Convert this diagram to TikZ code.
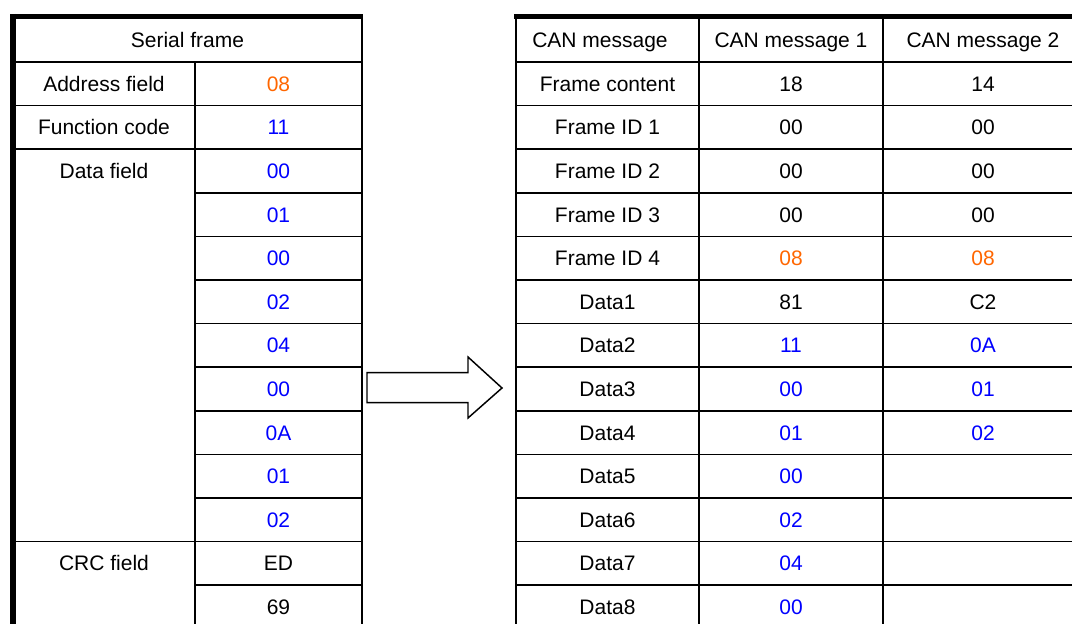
\documentclass[tikz,border=0pt]{standalone}
\usepackage{fontspec}
\setmainfont{Liberation Sans}
\usetikzlibrary{positioning}
\definecolor{addrorange}{RGB}{255,102,0}
\definecolor{datablue}{RGB}{0,0,255}
\tikzset{
  grid line/.style={line width=1.1pt},
  frame line/.style={line width=4pt},
  cell/.style={font=\fontsize{15.75}{18}\selectfont,inner sep=0pt,
    text height=11.3pt,text depth=0pt},
  addr/.style={cell,text=addrorange},
  dat/.style={cell,text=datablue}
}

\begin{document}
\begin{tikzpicture}[x=0.75pt,y=-0.75pt,line cap=butt]
  % Window & clip
  \useasboundingbox (0,0) rectangle (1072,624);
  \clip (0,0) rectangle (1072,624);
  \def\rowh{43.6}

  % Serial frame table: grid
  \draw[grid line] (362,16.5) -- (362,640);
  \draw[grid line] (195,62) -- (195,640);
  \foreach \y in {62,105.6,149.2,541.6}
    \draw[grid line] (13,\y) -- (362,\y);
  \foreach \k in {3,...,10,12}
    \draw[grid line] (195,{62+\k*\rowh}) -- (362,{62+\k*\rowh});
  \draw[frame line] (13,14) -- (13,640);
  \draw[frame line] (10,16.5) -- (363,16.5);

  % Serial frame table: texts
  \node[cell] (sfhead) at (187.5,40) {Serial frame};
  \node[cell] (sfaddr) at (104,{62+0.5*\rowh}) {Address field};
  \node[cell] (sffunc) at (104,{62+1.5*\rowh}) {Function code};
  \node[cell] (sfdata) at (104,{62+2.5*\rowh}) {Data field};
  \node[cell] (sfcrc)  at (104,{62+11.5*\rowh}) {CRC field};
  \foreach \val/\sty [count=\i] in {08/addr,11/dat,00/dat,01/dat,00/dat,02/dat,
      04/dat,00/dat,0A/dat,01/dat,02/dat,ED/cell,69/cell}
    \node[\sty] (sfval\i) at (278.5,{62+(\i-0.5)*\rowh}) {\val};

  % Conversion arrow
  \draw[grid line,line join=miter,fill=white]
    (367,372.7) -- (468,372.7) -- (468,357) -- (502,388)
    -- (468,418) -- (468,402.7) -- (367,402.7) -- cycle;

  % CAN message table: grid
  \foreach \x in {516,699,883}
    \draw[grid line] (\x,16.5) -- (\x,640);
  \foreach \k in {0,...,12}
    \draw[grid line] (516,{62+\k*\rowh}) -- (1090,{62+\k*\rowh});
  \draw[frame line] (514,16.5) -- (1090,16.5);

  % CAN message table: texts
  \node[cell] (canhead)  at (600,40) {CAN message};
  \node[cell] (canheadA) at (791,40) {CAN message 1};
  \node[cell] (canheadB) at (983,40) {CAN message 2};
  \foreach \lab/\a/\as/\b/\bs [count=\i] in {
      Frame content/18/cell/14/cell,
      Frame ID 1/00/cell/00/cell,
      Frame ID 2/00/cell/00/cell,
      Frame ID 3/00/cell/00/cell,
      Frame ID 4/08/addr/08/addr,
      Data1/81/cell/C2/cell,
      Data2/11/dat/0A/dat,
      Data3/00/dat/01/dat,
      Data4/01/dat/02/dat,
      Data5/00/dat//cell,
      Data6/02/dat//cell,
      Data7/04/dat//cell,
      Data8/00/dat//cell}
  {
    \node[cell] (canlab\i) at (607.5,{62+(\i-0.5)*\rowh}) {\lab};
    \node[\as]  (canA\i)   at (791,{62+(\i-0.5)*\rowh}) {\a};
    \node[\bs]  (canB\i)   at (983,{62+(\i-0.5)*\rowh}) {\b};
  }
\end{tikzpicture}
\end{document}
